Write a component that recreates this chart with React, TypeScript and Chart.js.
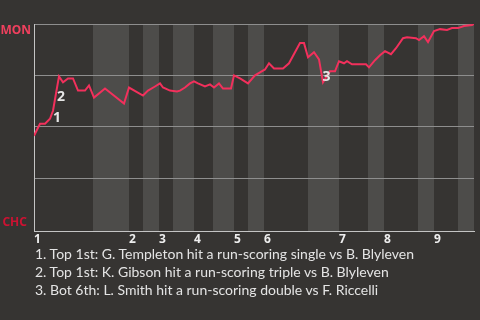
import React, { useEffect, useRef } from "react";
import { Chart, registerables } from "chart.js";

Chart.register(...registerables);

// play index (x) and MON win probability (y)
const playX = [0, 1.2, 2.2, 3.2, 3.8, 4.4, 5.0, 5.8, 6.8, 7.8, 8.8, 10.2, 11.0, 12.0, 14.2, 18.0, 19.0, 21.8, 22.8, 24.2, 25.2, 25.8, 27.2, 28.6, 29.2, 30.2, 31.2, 32.0, 32.8, 34.2, 35.2, 36.0, 37.0, 37.8, 39.4, 40.0, 41.2, 42.8, 44.2, 45.2, 46.2, 47.0, 48.0, 49.8, 51.0, 53.2, 54.0, 54.8, 56.0, 57.0, 57.8, 59.2, 60.2, 61.0, 62.0, 62.6, 63.6, 66.4, 67.0, 68.2, 69.2, 70.2, 71.4, 72.4, 73.8, 74.6, 76.4, 77.0, 78.0, 78.8, 80.0, 81.2, 82.6, 83.6, 84.8, 86.0, 87.6, 88.0];
const winProb = [0.456, 0.515, 0.515, 0.539, 0.578, 0.662, 0.745, 0.716, 0.735, 0.735, 0.676, 0.676, 0.701, 0.642, 0.686, 0.613, 0.691, 0.652, 0.676, 0.696, 0.711, 0.691, 0.676, 0.672, 0.676, 0.691, 0.711, 0.721, 0.711, 0.696, 0.706, 0.691, 0.711, 0.686, 0.686, 0.75, 0.735, 0.711, 0.75, 0.765, 0.779, 0.809, 0.784, 0.784, 0.809, 0.907, 0.907, 0.838, 0.863, 0.828, 0.716, 0.77, 0.77, 0.819, 0.809, 0.819, 0.804, 0.804, 0.789, 0.824, 0.848, 0.868, 0.853, 0.882, 0.931, 0.936, 0.931, 0.922, 0.941, 0.912, 0.966, 0.975, 0.971, 0.98, 0.98, 0.99, 0.995, 1.0];

const inningStarts = [0, 19, 25, 32, 40, 46, 61, 70, 80];
const inningLabels = ["1", "2", "3", "4", "5", "6", "7", "8", "9"];
const bottomHalfStarts = [11.8, 21.8, 27.8, 35.8, 42.8, 54.8, 66.8, 76.8, 84.8];
const gameEnd = 88;

const yTicks = [0.25, 0.5, 0.75, 1];
const teamTop = "MON";
const teamBottom = "CHC";

const eventLabels = ["1", "2", "3"];
const eventX = [4.6, 5.4, 58.5];
const eventY = [0.544, 0.647, 0.742];

const notes = [
  "1. Top 1st: G. Templeton hit a run-scoring single vs B. Blyleven",
  "2. Top 1st: K. Gibson hit a run-scoring triple vs B. Blyleven",
  "3. Bot 6th: L. Smith hit a run-scoring double vs F. Riccelli",
];

const BG = "#363432";
const BAND = "#4d4c4a";
const LINE = "#f2305c";
const FONT = "Lato, 'Noto Sans', sans-serif";
const BOLD_FONT = "'Noto Sans', 'Open Sans', sans-serif";

export default function App() {
  const ref = useRef<HTMLCanvasElement | null>(null);

  useEffect(() => {
    if (!ref.current) return;
    const bandsPlugin = {
      id: "bands",
      beforeDraw(chart: any) {
        const { ctx, chartArea, scales } = chart;
        const xs = scales.x;
        ctx.save();
        ctx.fillStyle = BAND;
        bottomHalfStarts.forEach((s, i) => {
          const e = i + 1 < inningStarts.length ? inningStarts[i + 1] : gameEnd;
          const x0 = xs.getPixelForValue(s);
          const x1 = xs.getPixelForValue(e);
          ctx.fillRect(x0, chartArea.top, x1 - x0, chartArea.bottom - chartArea.top);
        });
        ctx.restore();
      },
      afterDraw(chart: any) {
        const { ctx, chartArea, scales } = chart;
        ctx.save();
        ctx.font = `bold 12px ${BOLD_FONT}`;
        ctx.textAlign = "right";
        ctx.textBaseline = "middle";
        ctx.fillStyle = "#f0405e";
        ctx.fillText(teamTop, chartArea.left - 3, chartArea.top + 7);
        ctx.fillStyle = "#cc1232";
        ctx.fillText(teamBottom, chartArea.left - 7, chartArea.bottom - 9);
        ctx.font = `bold 14px ${BOLD_FONT}`;
        ctx.textAlign = "center";
        ctx.fillStyle = "#e6e6e6";
        eventLabels.forEach((t, i) => {
          ctx.fillText(t, scales.x.getPixelForValue(eventX[i]), scales.y.getPixelForValue(eventY[i]));
        });
        ctx.restore();
      },
    };

    const chart = new Chart(ref.current, {
      type: "line",
      data: {
        datasets: [
          {
            data: playX.map((x, i) => ({ x, y: winProb[i] })),
            borderColor: LINE,
            borderWidth: 2,
            pointRadius: 0,
            tension: 0,
            fill: false,
          },
        ],
      },
      options: {
        animation: false,
        responsive: false,
        layout: { padding: { left: 34, right: 6, top: 24, bottom: 2 } },
        plugins: { legend: { display: false }, tooltip: { enabled: false } },
        scales: {
          x: {
            type: "linear",
            min: 0,
            max: gameEnd,
            afterBuildTicks: (axis: any) => {
              axis.ticks = inningStarts.map((v) => ({ value: v }));
            },
            ticks: {
              callback: (_v: any, i: number) => inningLabels[i],
              align: "start",
              autoSkip: false,
              maxRotation: 0,
              padding: 1,
              color: "#eeeeee",
              font: { family: BOLD_FONT, size: 12, weight: "bold" },
            },
            grid: { display: false, drawTicks: false },
            border: { display: true, color: "#c4c4c4", width: 1 },
          },
          y: {
            min: -0.0098,
            max: 1,
            afterBuildTicks: (axis: any) => {
              axis.ticks = yTicks.map((v) => ({ value: v }));
            },
            ticks: { display: false },
            grid: { color: "#8e8e8e", drawTicks: false, lineWidth: 1 },
            border: { display: true, color: "#c4c4c4", width: 1 },
          },
        },
      },
      plugins: [bandsPlugin],
    } as any);
    return () => chart.destroy();
  }, []);

  return (
    <div style={{ position: "fixed", left: 0, top: 0, width: 480, height: 320, background: BG, overflow: "hidden" }}>
      <canvas ref={ref} width={480} height={250} style={{ display: "block", width: 480, height: 250 }} />
      <div
        style={{
          position: "absolute",
          left: 35,
          top: 245,
          fontFamily: FONT,
          fontSize: 14,
          lineHeight: "18px",
          color: "#e4e4e4",
          whiteSpace: "nowrap",
        }}
      >
        {notes.map((n) => (
          <div key={n}>{n}</div>
        ))}
      </div>
    </div>
  );
}
